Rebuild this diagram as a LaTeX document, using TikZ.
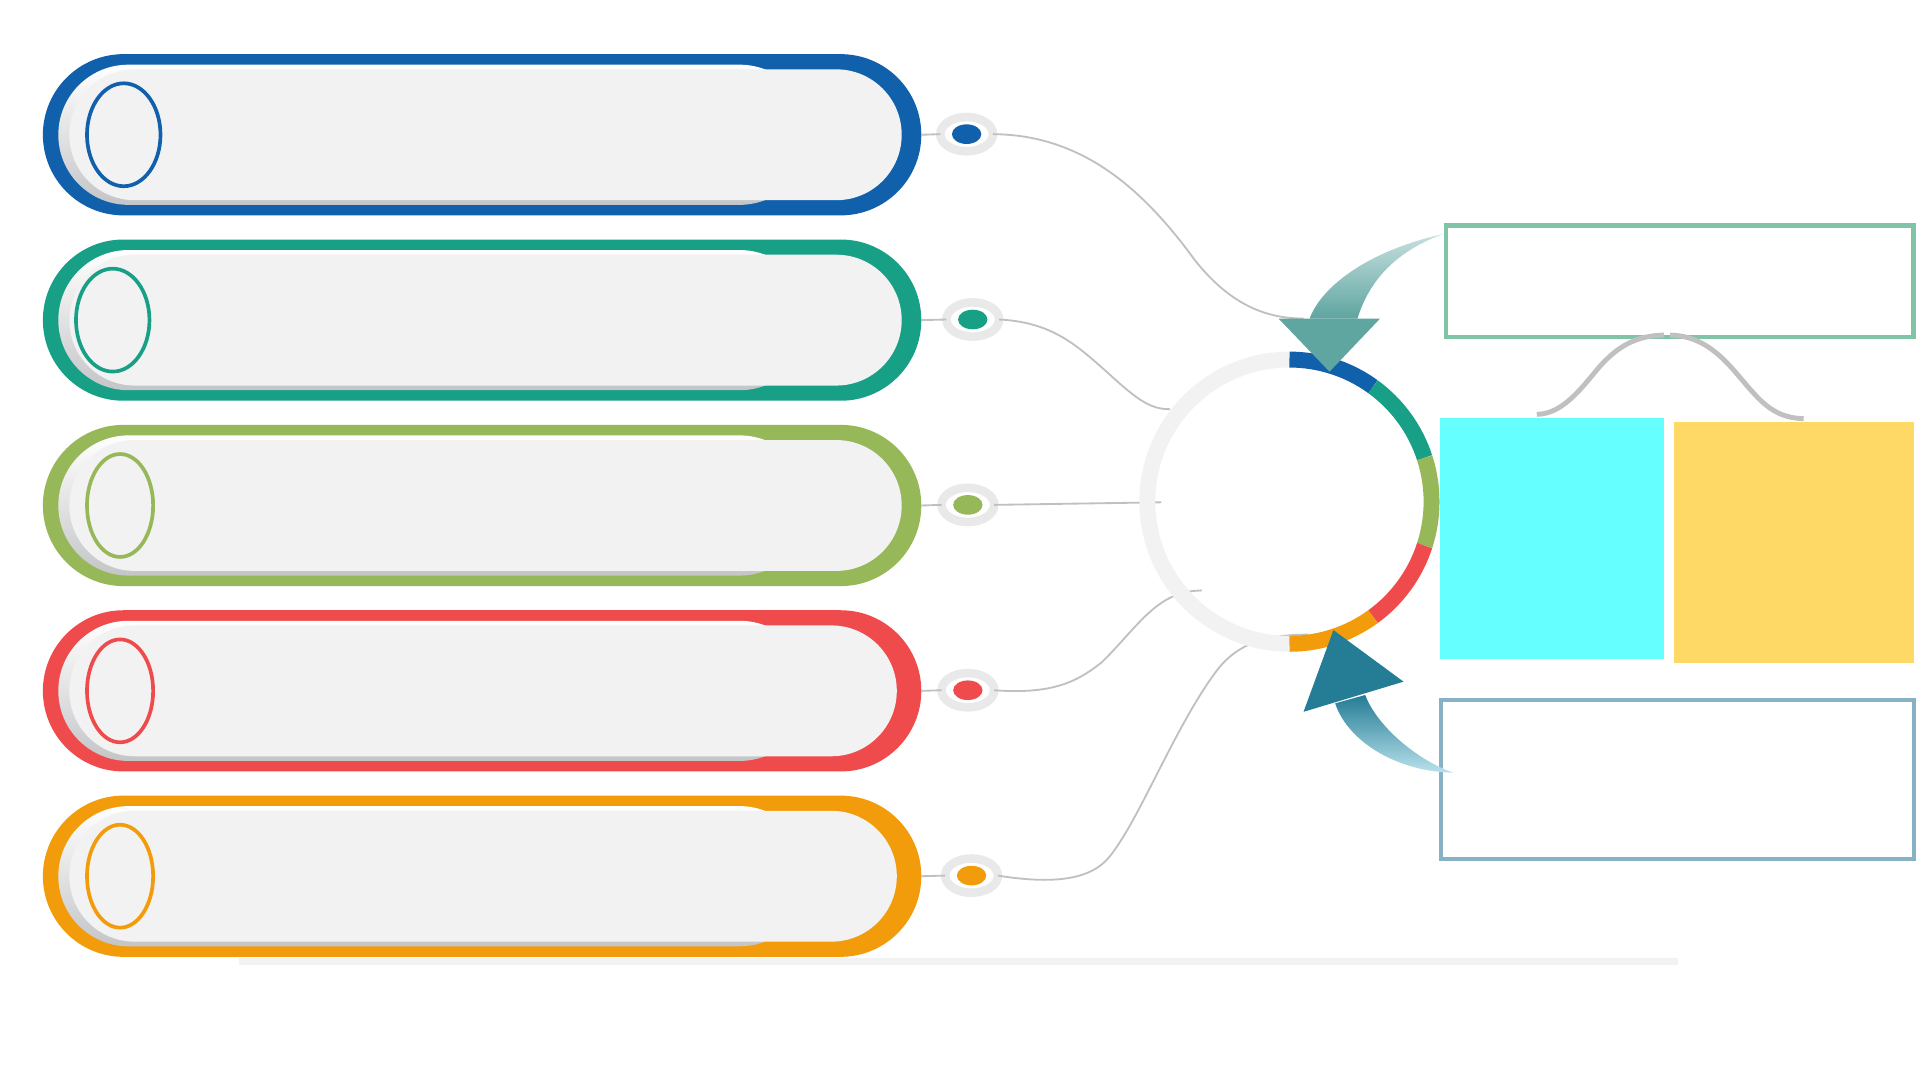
\documentclass[tikz,border=0pt]{standalone}
\usepackage{tikz}
\usetikzlibrary{shapes.geometric,positioning}

\definecolor{cblue}{HTML}{1160AC}
\definecolor{cteal}{HTML}{18A087}
\definecolor{cgreen}{HTML}{97B858}
\definecolor{cred}{HTML}{EF4B4C}
\definecolor{corange}{HTML}{F39C0B}
\definecolor{ringgray}{HTML}{F2F2F2}
\definecolor{linegray}{HTML}{C0C0C0}
\definecolor{dotgray}{HTML}{E9E9E9}
\definecolor{shadegray}{HTML}{C4C5C7}
\definecolor{arrowtop}{HTML}{5FA5A0}
\definecolor{arrowtoplight}{HTML}{C6E0DF}
\definecolor{arrowbot}{HTML}{247C95}
\definecolor{arrowbotlight}{HTML}{B8E1EB}
\definecolor{boxgreen}{HTML}{80C4A8}
\definecolor{boxblue}{HTML}{86B2C3}
\definecolor{fillcyan}{HTML}{66FFFF}
\definecolor{fillyellow}{HTML}{FED966}

\begin{document}
\begin{tikzpicture}[x=1pt,y=-1pt]
        \tikzstyle{every node}=[inner sep=0pt, outer sep=0pt]
        \tikzstyle{pillouter}=[minimum width=717pt, minimum height=131.6pt, rounded corners=65.8pt]
        \tikzstyle{pillback}=[minimum width=613.4pt, minimum height=114.4pt, rounded corners=57.2pt, top color=white, bottom color=shadegray]
        \tikzstyle{pillbody}=[fill=ringgray, minimum height=106.8pt, rounded corners=53.4pt]
        \tikzstyle{pindot}=[ellipse, draw=dotgray, line width=7pt, fill=white, minimum width=43pt, minimum height=28pt]
        \tikzstyle{conn}=[linegray, line width=1.5pt]

        \useasboundingbox (0,0) rectangle (1568,882.4);

        \draw[ringgray, line width=6pt] (195,784.8) -- (1370,784.8);

        \foreach \i/\col/\ex/\erx/\dx/\br in {1/cblue/101/30/789/736, 2/cteal/92/30/794/736, 3/cgreen/98/27/790/736, 4/cred/98/27/790/732, 5/corange/98/27/793/732} {
            \pgfmathsetmacro{\yc}{110+151.3*(\i-1)}
            \node[pillouter, fill=\col] (p\i) at (393.5,\yc) {};
            \node[pillback] at (354.3,\yc) {};
            \node[pillbody, minimum width=\br pt-56.6pt] at ({(56.6+\br)/2},\yc) {};
            \draw[\col, line width=3pt] (\ex,\yc) ellipse[x radius=\erx, y radius=42];
            \node[pindot] (d\i) at (\dx,\yc-0.5) {};
            \fill[\col] (d\i) ellipse[x radius=12, y radius=8];
            \draw[conn] (p\i.east) -- (d\i.west);
        }

        \coordinate (h1) at (1064,260);
        \coordinate (h2) at (955,334);
        \coordinate (h3) at (948,410);
        \coordinate (h4) at (981,482);
        \coordinate (h5) at (1068,518);

        \draw[conn] (d1.east) .. controls (880,110) and (930,150) .. (975,212) .. controls (1005,250) and (1035,260) .. (h1);
        \draw[conn] (d2.east) .. controls (860,263) and (880,283) .. (905,305) .. controls (930,328) and (940,334) .. (h2);
        \draw[conn] (d3.east) -- (h3);
        \draw[conn] (d4.east) .. controls (860,567) and (880,556) .. (900,540) .. controls (930,510) and (945,482) .. (h4);
        \draw[conn] (d5.east) .. controls (860,722) and (890,718) .. (905,700) .. controls (930,670) and (960,590) .. (995,545) .. controls (1010,527) and (1030,518) .. (h5);

        \begin{scope}[shift={(1052.5,409.5)}, yscale=-1]
            \draw[ringgray, line width=13pt] (90:116) arc[start angle=90, end angle=270, radius=116];
            \foreach \a/\col in {90/cblue, 54/cteal, 18/cgreen, -18/cred, -54/corange}
                \draw[\col, line width=13pt] (\a:116) arc[start angle=\a, end angle=\a-36, radius=116];
        \end{scope}

        \node[draw=boxgreen, line width=3.5pt, minimum width=381.5pt, minimum height=91pt] (top) at (1371.2,229.5) {};
        \node[draw=boxblue, line width=3.3pt, minimum width=386.2pt, minimum height=130pt] (bot) at (1368.9,636) {};
        \node[fill=fillcyan, minimum width=182.8pt, minimum height=196pt] (cyanbox) at (1266.4,439.5) {};
        \node[fill=fillyellow, minimum width=195.5pt, minimum height=197.3pt] (yellowbox) at (1464.2,442.9) {};

        \shade[top color=arrowtoplight, bottom color=arrowtop] (1178,191) .. controls (1115,205) and (1078,235) .. (1069,260) -- (1108,260) .. controls (1118,228) and (1140,205) .. (1178,191) -- cycle;
        \fill[arrowtop] (1043.6,260) -- (1126.5,260) -- (1085.2,303.4) -- cycle;

        \shade[top color=arrowbot, bottom color=arrowbotlight] (1089.8,574.1) .. controls (1100,605) and (1140,630) .. (1186.4,630.7) .. controls (1160,622) and (1125,595) .. (1114.3,567.3) -- cycle;
        \fill[arrowbot] (1088.4,514.3) -- (1145.6,556.4) -- (1064,581) -- cycle;

        \draw[linegray, line width=4pt] ([xshift=-12pt,yshift=3.3pt]cyanbox.north) .. controls (1275,338) and (1290,318) .. (1305,300) .. controls (1320,283) and (1335,274) .. ([xshift=-13pt,yshift=1.5pt]top.south);
        \draw[linegray, line width=4pt] ([xshift=-8pt,yshift=1.5pt]top.south) .. controls (1385,274) and (1400,285) .. (1415,302) .. controls (1435,325) and (1445,341) .. ([xshift=8pt,yshift=2.5pt]yellowbox.north);

    \end{tikzpicture}
\end{document}
